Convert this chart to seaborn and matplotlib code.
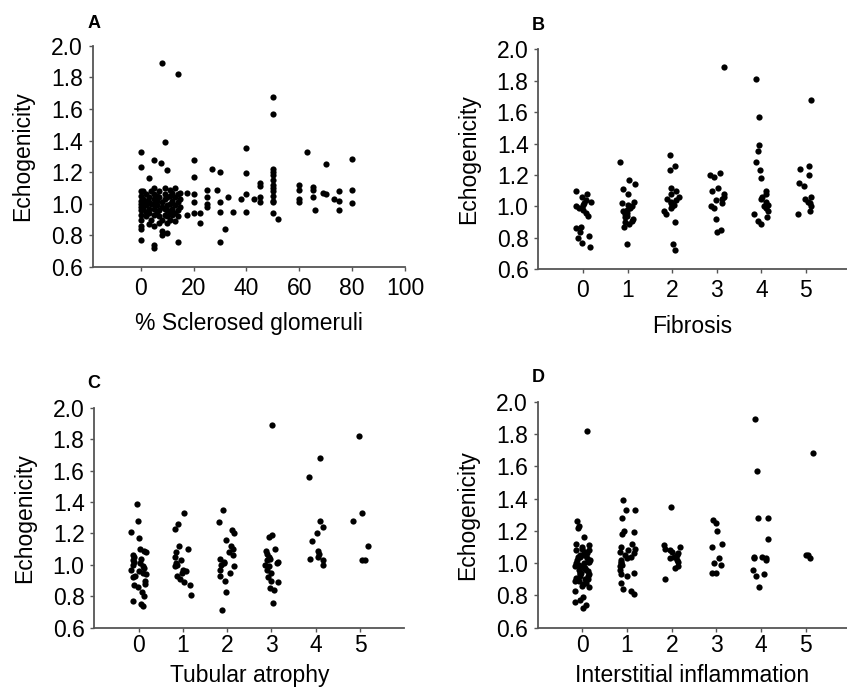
import numpy as np
import pandas as pd
import matplotlib.pyplot as plt
import seaborn as sns

# Panel A: % sclerosed glomeruli vs echogenicity
sclerosed_pct = [0, 0, 0, 0, 0, 0, 0, 0, 0, 0, 0, 0, 0,
                 1, 1, 1, 1,
                 2, 2, 2, 2, 2,
                 3, 3, 3, 3, 3, 3,
                 4, 4, 4,
                 5, 5, 5, 5, 5, 5, 5, 5, 5, 5,
                 6, 6, 6, 6,
                 7, 7, 7, 7, 7, 7.5,
                 8, 8, 8, 8, 8, 8,
                 9, 9, 9, 9, 9, 9,
                 10, 10, 10, 10, 10, 10, 10,
                 11, 11, 11, 11, 11,
                 12, 12, 12, 12,
                 13, 13, 13, 13, 13,
                 14, 14, 14, 14, 14, 14,
                 15, 15, 15,
                 17.5, 17.5,
                 20, 20, 20, 20, 20,
                 22.5, 22.5,
                 25, 25, 25, 25,
                 27, 29,
                 30, 30, 30, 30,
                 32, 33, 35, 38,
                 40, 40, 40, 40,
                 43,
                 45, 45, 45, 45,
                 50, 50, 50, 50, 50, 50, 50, 50, 50, 50, 50, 50, 50,
                 52,
                 60, 60, 60, 60,
                 63,
                 65, 65, 65,
                 66, 69, 70, 70, 73,
                 75, 75, 75,
                 80, 80, 80]
echo_a = [0.84, 0.86, 0.90, 0.93, 0.96, 0.98, 1.00, 1.02, 1.05, 1.08, 0.77, 1.23, 1.33,
          0.97, 1.00, 1.03, 1.08,
          0.92, 0.95, 0.99, 1.02, 1.06,
          0.87, 0.94, 0.97, 1.01, 1.04, 1.16,
          0.90, 1.00, 1.08,
          0.72, 0.74, 0.86, 0.93, 0.97, 1.00, 1.03, 1.06, 1.10, 1.28,
          0.95, 0.99, 1.02, 1.05,
          0.88, 0.92, 0.96, 1.04, 1.08, 1.26,
          0.80, 0.83, 0.90, 0.98, 1.01, 1.89,
          0.93, 0.97, 1.03, 1.06, 1.10, 1.39,
          0.815, 0.88, 0.92, 0.96, 0.99, 1.04, 1.215,
          0.90, 0.95, 1.00, 1.05, 1.09,
          0.93, 0.97, 1.02, 1.07,
          0.89, 0.94, 0.99, 1.04, 1.10,
          0.76, 0.92, 0.96, 1.01, 1.06, 1.82,
          0.98, 1.03, 1.07,
          0.93, 1.07,
          0.94, 1.01, 1.06, 1.17, 1.28,
          0.88, 0.94,
          0.98, 1.00, 1.04, 1.09,
          1.22, 1.09,
          0.76, 0.95, 1.01, 1.20,
          0.84, 1.04, 0.95, 1.03,
          0.95, 1.06, 1.195, 1.35,
          1.03,
          1.01, 1.04, 1.11, 1.13,
          0.94, 1.01, 1.02, 1.05, 1.08, 1.10, 1.12, 1.15, 1.18, 1.20, 1.22, 1.565, 1.675,
          0.905,
          1.01, 1.03, 1.085, 1.117,
          1.33,
          1.04, 1.085, 1.106,
          0.96, 1.07, 1.06, 1.25, 1.03,
          0.96, 1.02, 1.08,
          1.005, 1.085, 1.285]

grades = [0, 1, 2, 3, 4, 5]

# Panel B: fibrosis grade
fibrosis_echo = [
    [1.10, 1.08, 1.06, 1.04, 1.03, 1.02, 1.01, 1.00, 0.99, 0.98, 0.96, 0.94,
     0.87, 0.86, 0.84, 0.81, 0.80, 0.77, 0.74],
    [1.28, 1.17, 1.14, 1.11, 1.08, 1.03, 1.02, 1.01, 1.00, 0.99, 0.98, 0.97,
     0.96, 0.95, 0.94, 0.93, 0.92, 0.91, 0.90, 0.89, 0.87, 0.76],
    [1.33, 1.26, 1.23, 1.12, 1.10, 1.08, 1.06, 1.05, 1.04, 1.03, 1.02, 1.01,
     1.00, 0.99, 0.97, 0.95, 0.90, 0.76, 0.72],
    [1.89, 1.21, 1.20, 1.19, 1.12, 1.10, 1.08, 1.06, 1.05, 1.04, 1.02, 1.00,
     0.99, 0.92, 0.85, 0.84],
    [1.81, 1.57, 1.39, 1.35, 1.28, 1.23, 1.18, 1.10, 1.08, 1.06, 1.05, 1.03,
     1.01, 1.00, 0.99, 0.97, 0.95, 0.93, 0.91, 0.89],
    [1.68, 1.26, 1.24, 1.20, 1.15, 1.13, 1.06, 1.05, 1.03, 1.02, 1.00, 0.97, 0.95],
]

# Panel C: tubular atrophy grade
atrophy_echo = [
    [1.39, 1.28, 1.21, 1.17, 1.10, 1.09, 1.08, 1.06, 1.05, 1.04, 1.03, 1.02,
     1.01, 1.00, 0.99, 0.98, 0.97, 0.96, 0.95, 0.94, 0.93, 0.92, 0.90, 0.88,
     0.87, 0.86, 0.83, 0.80, 0.77, 0.75, 0.74],
    [1.33, 1.26, 1.23, 1.12, 1.10, 1.08, 1.05, 1.03, 1.01, 1.00, 0.99, 0.97,
     0.96, 0.95, 0.93, 0.91, 0.89, 0.87, 0.81],
    [1.35, 1.27, 1.22, 1.20, 1.16, 1.12, 1.10, 1.08, 1.06, 1.04, 1.02, 1.01,
     1.00, 0.99, 0.97, 0.95, 0.93, 0.90, 0.83, 0.71],
    [1.89, 1.19, 1.18, 1.10, 1.09, 1.07, 1.05, 1.04, 1.03, 1.02, 1.01, 1.00,
     0.99, 0.97, 0.95, 0.92, 0.90, 0.89, 0.85, 0.84, 0.76],
    [1.68, 1.56, 1.28, 1.24, 1.20, 1.15, 1.09, 1.07, 1.05, 1.04, 1.03, 1.00],
    [1.82, 1.33, 1.28, 1.12, 1.03, 1.03],
]

# Panel D: interstitial inflammation grade
inflam_echo = [
    [1.82, 1.26, 1.23, 1.22, 1.16, 1.12, 1.11, 1.10, 1.09, 1.08, 1.07, 1.06,
     1.05, 1.04, 1.03, 1.02, 1.01, 1.00, 0.99, 0.98, 0.97, 0.96, 0.95, 0.94,
     0.93, 0.92, 0.91, 0.90, 0.89, 0.88, 0.87, 0.86, 0.85, 0.83, 0.79, 0.77,
     0.76, 0.74, 0.72, 1.08, 1.06, 1.04, 1.02, 1.00, 0.98, 0.96, 0.94, 0.92,
     0.90, 1.05, 1.01, 0.97, 0.93, 0.89],
    [1.39, 1.33, 1.33, 1.28, 1.20, 1.19, 1.18, 1.12, 1.10, 1.09, 1.08, 1.07,
     1.06, 1.05, 1.04, 1.03, 1.02, 1.01, 1.00, 0.99, 0.98, 0.96, 0.94, 0.93,
     0.92, 0.88, 0.84, 0.83, 0.81],
    [1.35, 1.11, 1.10, 1.09, 1.08, 1.07, 1.06, 1.05, 1.04, 1.03, 1.02, 1.01,
     0.98, 0.97, 0.90],
    [1.27, 1.25, 1.20, 1.12, 1.10, 1.03, 1.00, 0.99, 0.94, 0.94],
    [1.89, 1.57, 1.28, 1.28, 1.15, 1.04, 1.04, 1.03, 1.03, 1.02, 0.96, 0.93, 0.92, 0.85],
    [1.68, 1.05, 1.05, 1.03],
]

sns.set_style("ticks")
plt.rcParams['font.family'] = ['Liberation Sans', 'DejaVu Sans']
plt.rcParams['text.color'] = 'black'
plt.rcParams['axes.labelcolor'] = 'black'
plt.rcParams['xtick.labelcolor'] = 'black'
plt.rcParams['ytick.labelcolor'] = 'black'

W, H = 847, 690
FS = 16.5
fig = plt.figure(figsize=(W / 100, H / 100), dpi=100)


def make_axes(left, right, top, bottom):
    return fig.add_axes([left / W, 1 - bottom / H, (right - left) / W, (bottom - top) / H])


def style(ax, xlabel, xpad=4, xlabelpad=9):
    ax.set_ylim(0.6, 2.0)
    ax.set_yticks(np.arange(0.6, 2.01, 0.2))
    ax.set_yticklabels([f"{v:.1f}" for v in np.arange(0.6, 2.01, 0.2)])
    ax.set_ylabel("Echogenicity", fontsize=FS, labelpad=12)
    ax.set_xlabel(xlabel, fontsize=FS, labelpad=xlabelpad)
    ax.tick_params(labelsize=FS, length=3, width=1, color='#555555',
                   labelcolor='black', pad=4)
    ax.tick_params(axis='x', pad=xpad)
    for side in ['top', 'right']:
        ax.spines[side].set_visible(False)
    for side in ['left', 'bottom']:
        ax.spines[side].set_color('#555555')
        ax.spines[side].set_linewidth(1.3)
    ax.grid(False)


def long_form(values):
    rows = [(g, v) for g, vals in zip(grades, values) for v in vals]
    return pd.DataFrame(rows, columns=['grade', 'echo'])


np.random.seed(7)

# A
axA = make_axes(92.7, 405, 45.7, 267)
sns.scatterplot(x=sclerosed_pct, y=echo_a, color='black', s=20, linewidth=0, ax=axA)
axA.set_xlim(-18.2, 100)
axA.set_xticks([0, 20, 40, 60, 80, 100])
style(axA, "% Sclerosed glomeruli")

panels = [
    (fibrosis_echo, "Fibrosis", (538.3, 847, 49.3, 269.3), 4, 9),
    (atrophy_echo, "Tubular atrophy", (94.3, 404.3, 407.7, 627.7), 1.5, 5),
    (inflam_echo, "Interstitial inflammation", (537.7, 847, 401.7, 627.7), 1.5, 5),
]
for values, label, box, xpad, xlabelpad in panels:
    ax = make_axes(*box)
    df = long_form(values)
    sns.stripplot(data=df, x='grade', y='echo', order=grades, jitter=0.18,
                  color='black', size=4.5, linewidth=0, ax=ax)
    right_lim = 5.92 if box[1] >= 846 else 6.0
    ax.set_xlim(-1.0, right_lim)
    style(ax, label, xpad, xlabelpad)

# panel letters
for letter, (px, py) in zip("ABCD", [(94, 23), (538, 25), (94, 383), (538, 377)]):
    fig.text(px / W, 1 - py / H, letter, fontsize=13, fontweight='bold',
             ha='center', va='center', color='black')

fig.savefig("out.png", dpi=100)
